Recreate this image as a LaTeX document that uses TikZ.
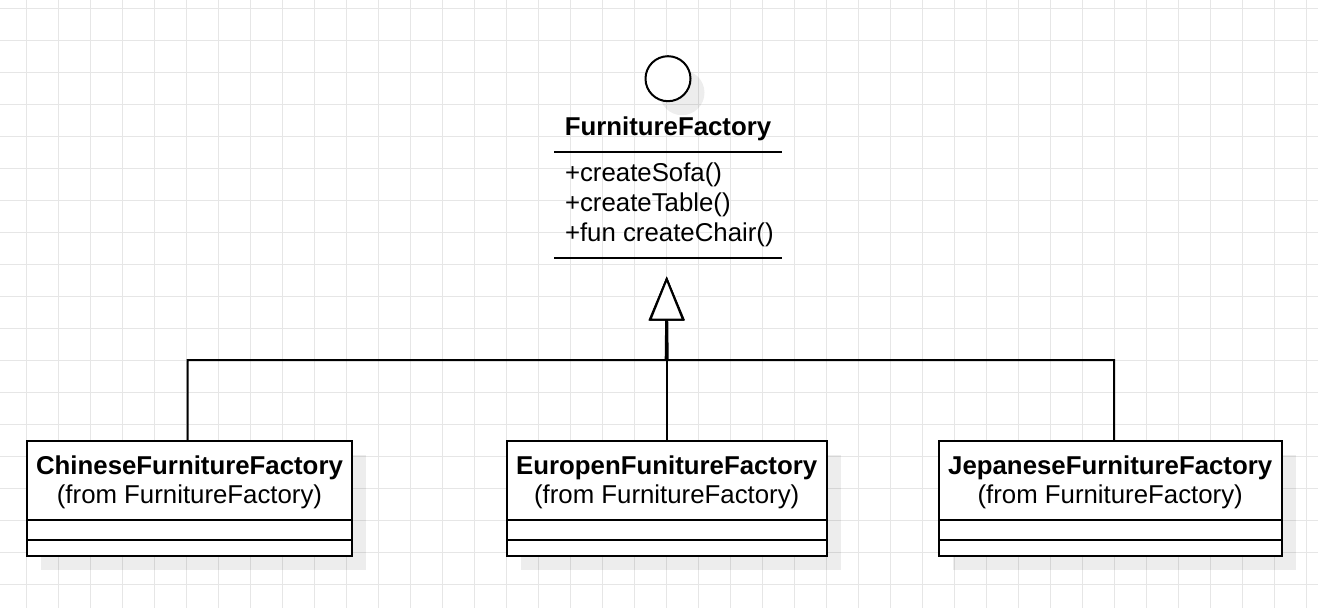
\documentclass[tikz,border=0pt]{standalone}
\usepackage{fontspec}
\setmainfont{Liberation Sans}
\usetikzlibrary{arrows.meta,shadows}
\definecolor{gridc}{HTML}{E6E6E6}
\begin{document}
\begin{tikzpicture}[x=1pt,y=-1pt,
  every node/.style={inner sep=0pt, outer sep=0pt},
  txt/.style={anchor=base, font=\fontsize{25.8}{30}\selectfont},
  bold/.style={txt, font=\fontsize{25.8}{30}\selectfont\bfseries},
  meth/.style={anchor=base west, font=\fontsize{25.8}{30}\selectfont},
  shade/.style={drop shadow={shadow xshift=14pt, shadow yshift=-14pt, fill=black, opacity=0.07}},
  classbox/.style={draw, line width=2pt, fill=white, rectangle, minimum height=115.5pt, shade},
  sepline/.style={line width=2pt},
  conn/.style={line width=2pt, -{Triangle[open, length=44pt, width=35pt, fill=white]}},
]
% background and grid
\fill[white] (0,0) rectangle (1318,608);
\useasboundingbox (0,0) rectangle (1318,608);
\foreach \i in {0,...,40} {
  \draw[gridc, line width=1pt] ({26.5+32*\i},0) -- ({26.5+32*\i},608);
}
\foreach \j in {0,...,18} {
  \draw[gridc, line width=1pt] (0,{8.5+32*\j}) -- (1318,{8.5+32*\j});
}

% interface
\node[circle, draw, line width=2pt, fill=white, minimum size=45pt, shade] (iface) at (668,78.7) {};
\node[bold] (ffname) at (668,135) {FurnitureFactory};
\coordinate (ffl1a) at (554,152);
\coordinate (ffl1b) at (782,152);
\draw[sepline] (ffl1a) -- (ffl1b);
\node[meth] (m1) at (565,181.7) {+createSofa()};
\node[meth] (m2) at (565,211.7) {+createTable()};
\node[meth] (m3) at (565,241.7) {+fun createChair()};
\coordinate (ffl2a) at (554,258.3);
\coordinate (ffl2b) at (782,258.3);
\draw[sepline] (ffl2a) -- (ffl2b);

% classes
\node[classbox, minimum width=325pt] (cf) at (189.5,498.7) {};
\node[classbox, minimum width=320pt] (ef) at (666.7,498.7) {};
\node[classbox, minimum width=343pt] (jf) at (1110.2,498.7) {};

\foreach \b in {cf,ef,jf} {
  \draw[sepline] (\b.west |- 0,519.5) -- (\b.east |- 0,519.5);
  \draw[sepline] (\b.west |- 0,539.5) -- (\b.east |- 0,539.5);
}

\node[bold] (cfname) at (189.5,474) {ChineseFurnitureFactory};
\node[txt] (cffrom) at (189.5,503.3) {(from FurnitureFactory)};
\node[bold] (efname) at (666.7,474) {EuropenFunitureFactory};
\node[txt] (effrom) at (666.7,503.3) {(from FurnitureFactory)};
\node[bold] (jfname) at (1110.2,474) {JepaneseFurnitureFactory};
\node[txt] (jffrom) at (1110.2,503.3) {(from FurnitureFactory)};

% connectors
\coordinate (tip) at (666.7,276.5);
\coordinate (joinl) at (665.7,360);
\coordinate (joinr) at (667.7,360);
\draw[conn] ([xshift=-1.8pt]cf.north) |- (joinl) -- (tip);
\draw[conn] ([xshift=3.8pt]jf.north) |- (joinr) -- (tip);
\draw[conn] (ef.north) -- (tip);
\end{tikzpicture}
\end{document}
